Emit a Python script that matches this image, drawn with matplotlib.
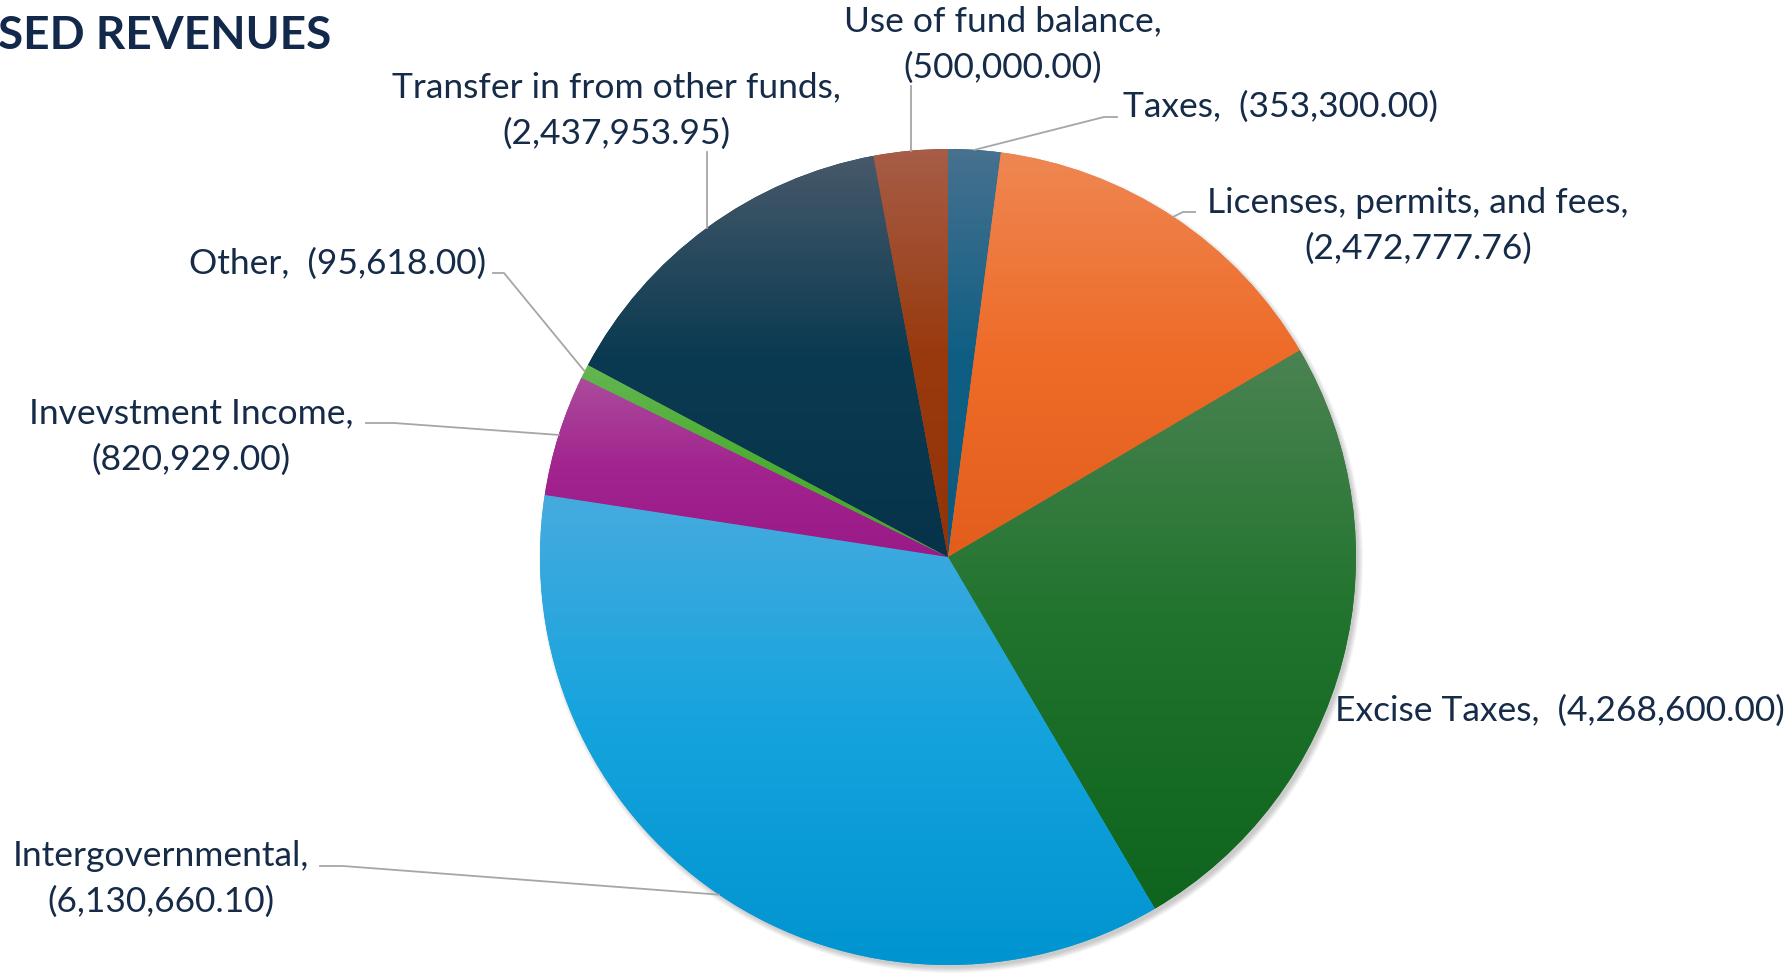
import matplotlib
matplotlib.use("Agg")
import matplotlib.pyplot as plt
from matplotlib.colors import to_rgb
from matplotlib.patches import Circle
import numpy as np

# ---- data ----
categories = ["Taxes", "Licenses, permits, and fees", "Excise Taxes", "Intergovernmental",
              "Invevstment Income", "Other", "Transfer in from other funds", "Use of fund balance"]
values = [353300.00, 2472777.76, 4268600.00, 6130660.10, 820929.00, 95618.00, 2437953.95, 500000.00]

# ---- style ----
W, H = 1792, 973
CX, CY, R = 948, 557, 408          # pie centre / radius in pixels (top-left origin)
TEXT = "#152b48"
LEADER = "#a6a6a6"
FONT = "Lato"
FS = 25.5

# gradient stops per slice: top / middle / bottom
top_colors = ["#47718f", "#ef8752", "#4b8352", "#46abdf", "#ab4c9b", "#64b552", "#47596a", "#a75d47"]
mid_colors = ["#0f5f84", "#ee6b28", "#1f732c", "#14a3dd", "#a2248f", "#4cae32", "#0a3a51", "#983a0e"]
bot_colors = ["#0c5a7e", "#e35e1c", "#0f641e", "#0094d0", "#9a1a88", "#45a62c", "#07334a", "#923408"]

# label layout (pixel coords, top-left origin)
# (x, y, ha, leader points from text side toward rim / vertical leader top / None)
label_pos = [
    (1123, 107, "left", [(1117, 117), (1104, 117)]),
    (1418, 226, "center", [(1195, 212), (1183, 212)]),
    (1335, 711, "left", None),
    (161, 879, "center", [(320, 866), (343, 866)]),
    (191, 437, "center", [(366, 423), (394, 423)]),
    (486, 264, "right", [(493, 273), (504, 273)]),
    (616, 111, "center", "vertical:152"),
    (1003, 45, "center", "vertical:86"),
]


def Y(py):
    return H - py


def fmt(v):
    return f"({v:,.2f})"


plt.rcParams['font.family'] = [FONT, 'DejaVu Sans']

fig = plt.figure(figsize=(W / 100, H / 100), dpi=100)
ax = fig.add_axes([0, 0, 1, 1])

# soft drop shadow
for k in range(6):
    ax.add_patch(Circle((CX + 3, Y(CY) - 4), R + 4 - k, color="black", alpha=0.035, lw=0, zorder=0))

wedges, _ = ax.pie(values, startangle=90, counterclock=False, radius=R,
                   center=(CX, Y(CY)), wedgeprops=dict(lw=0))

ax.set_xlim(0, W)
ax.set_ylim(0, H)
ax.set_aspect("equal")
ax.axis("off")

# per-slice vertical gradient
for i, w in enumerate(wedges):
    w.set_facecolor(mid_colors[i])
    w.set_zorder(1)
    verts = w.get_path().vertices
    x0, x1 = verts[:, 0].min(), verts[:, 0].max()
    y0, y1 = verts[:, 1].min(), verts[:, 1].max()
    n = 200
    t = np.linspace(0, 1, n)[:, None]
    c0, c1, c2 = (np.array(to_rgb(c)) for c in (top_colors[i], mid_colors[i], bot_colors[i]))
    col = np.where(t < 0.5, c0 + (c1 - c0) * (t / 0.5), c1 + (c2 - c1) * ((t - 0.5) / 0.5))
    img = np.repeat(col[:, None, :], 2, axis=1)
    im = ax.imshow(img, extent=(x0, x1, y0, y1), origin="upper", aspect="auto",
                   interpolation="bilinear", zorder=2)
    im.set_clip_path(w)

ax.set_xlim(0, W)
ax.set_ylim(0, H)

# labels and leader lines
for i, w in enumerate(wedges):
    lx, ly, ha, lead = label_pos[i]
    name = categories[i]
    if ha == "center":
        txt = f"{name},\n{fmt(values[i])}"
    else:
        txt = f"{name},  {fmt(values[i])}"
    ax.text(lx, Y(ly), txt, ha=ha, va="center", fontsize=FS, color=TEXT,
            linespacing=1.55, multialignment="center", zorder=5)

    mid = np.deg2rad((w.theta1 + w.theta2) / 2)
    rx, ry = CX + R * np.cos(mid), Y(CY) + R * np.sin(mid)
    if lead is None:
        continue
    if isinstance(lead, str):
        ytop = float(lead.split(":")[1])
        ax.plot([rx, rx], [ry, Y(ytop)], color=LEADER, lw=1.3, zorder=4)
    else:
        xs = [p[0] for p in lead] + [rx]
        ys = [Y(p[1]) for p in lead] + [ry]
        ax.plot(xs, ys, color=LEADER, lw=1.3, zorder=4)

# title (cut at the left edge as in the source)
ax.text(-2, Y(36), "SED REVENUES", ha="left", va="center", fontsize=33,
        fontweight="bold", color="#13294b", zorder=5)

fig.savefig("out.png", dpi=100)
